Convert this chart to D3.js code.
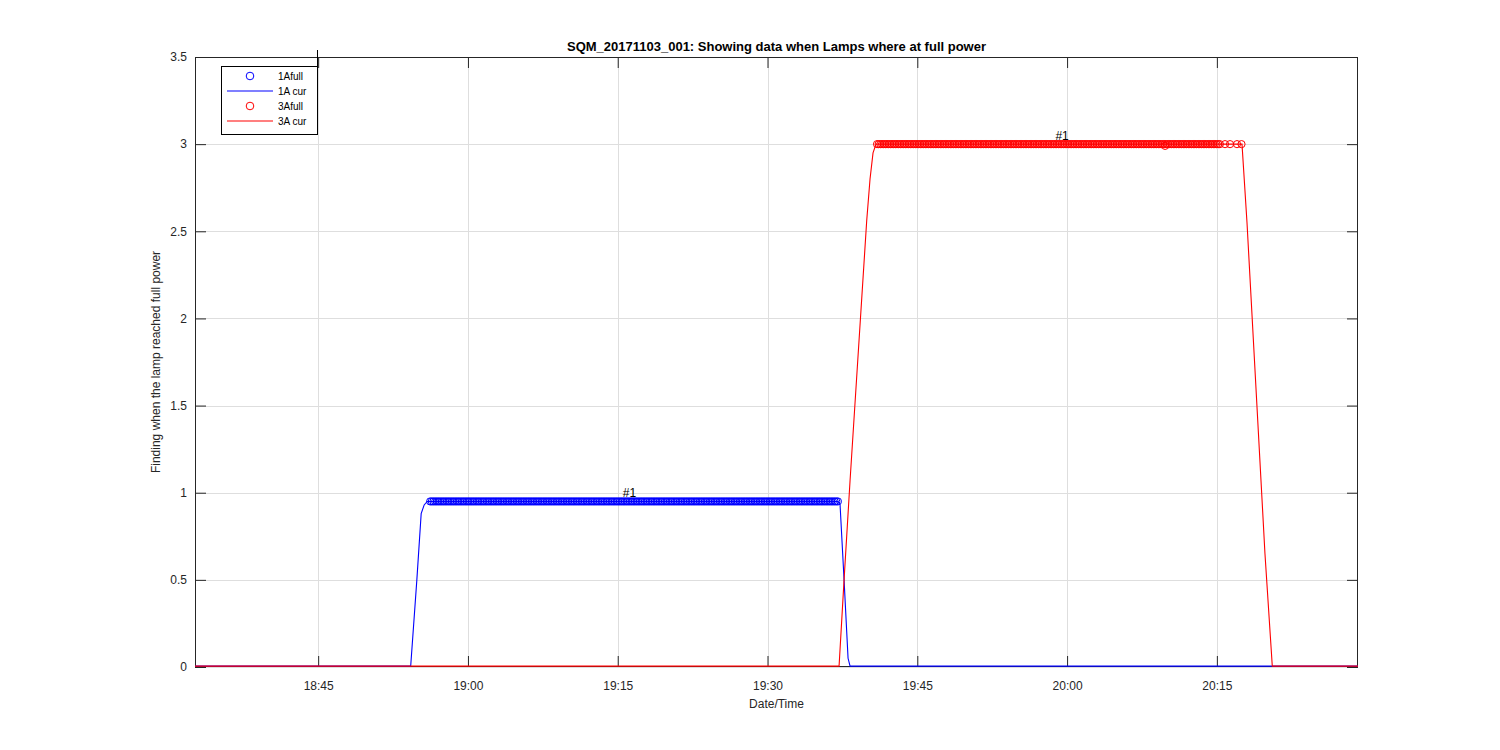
<!DOCTYPE html>
<html>
<head>
<meta charset="utf-8">
<script src="https://cdn.jsdelivr.net/npm/d3@7"></script>
<style>
  html, body { margin: 0; padding: 0; background: #fff; }
  svg { display: block; font-family: "Liberation Sans", Arial, Helvetica, sans-serif; }
</style>
</head>
<body>
<svg id="chart" width="1500" height="750"></svg>
<script>
// ---------------- DATA ----------------
const xDomain = ["18:32:40", "20:29:08"];
const xTickLabels = ["18:45", "19:00", "19:15", "19:30", "19:45", "20:00", "20:15"];
const yTickValues = [0, 0.5, 1, 1.5, 2, 2.5, 3, 3.5];

// 1A current (blue line)
const blueTimes  = ["18:32:40", "18:54:16", "18:54:53", "18:55:19", "18:55:37", "18:55:55", "19:37:04", "19:37:16", "19:37:40", "19:38:04", "19:38:16", "20:29:08"];
const blueValues = [0.005,      0.005,      0.5,        0.88,       0.93,       0.95,       0.95,       0.93,       0.5,        0.05,       0.005,      0.005];

// 3A current (red line)
const redTimes  = ["18:32:40", "19:37:10", "19:37:40", "19:38:16", "19:39:56", "19:40:16", "19:40:34", "19:40:52", "20:17:31", "20:18:01", "20:19:49", "20:20:33", "20:29:08"];
const redValues = [0.005,      0.005,      0.5,        1.07,       2.56,       2.8,        2.95,       3.0,        3.0,        2.55,       0.65,       0.005,      0.005];

// full power markers: dense sample runs plus isolated samples
const sampleStepSec = 10;
const blueFullRange = ["18:56:13", "19:37:04"];
const blueFullValue = 0.95;
const redFullRange = ["19:40:58", "20:15:19"];
const redFullValue = 3.0;
const redExtraTimes  = ["20:09:49", "20:15:49", "20:16:19", "20:17:01", "20:17:28"];
const redExtraValues = [2.99,       3.0,        3.0,        3.0,        3.0];

// annotations
const labelTimes  = ["19:16:11", "19:59:30"];
const labelValues = [0.95, 3.0];
const labelTexts  = ["#1", "#1"];

const legendLabels = ["1Afull", "1A cur", "3Afull", "3A cur"];
const titleText = "SQM_20171103_001: Showing data when Lamps where at full power";
const xLabel = "Date/Time";
const yLabel = "Finding when the lamp reached full power";

// ---------------- DRAW ----------------
const parse = d3.timeParse("%H:%M:%S");
const parseHM = d3.timeParse("%H:%M");
const svg = d3.select("#chart");
const L = 195, R = 1358, T = 57, B = 667;
const x = d3.scaleTime().domain(xDomain.map(parse)).range([L, R]);
const y = d3.scaleLinear().domain([0, 3.5]).range([B, T]);
const tickLen = 11;
const textCol = "#262626";

const xTicks = xTickLabels.map(parseHM);

// grid
const grid = svg.append("g");
grid.selectAll(".gx").data(xTicks).enter().append("line")
  .attr("x1", d => Math.round(x(d)) + 0.5).attr("x2", d => Math.round(x(d)) + 0.5)
  .attr("y1", T).attr("y2", B).attr("stroke", "#dedede").attr("stroke-width", 1);
grid.selectAll(".gy").data(yTickValues).enter().append("line")
  .attr("y1", d => Math.round(y(d)) + 0.5).attr("y2", d => Math.round(y(d)) + 0.5)
  .attr("x1", L).attr("x2", R).attr("stroke", "#dedede").attr("stroke-width", 1);

// axes with inward ticks using d3 axes
const xAxisB = d3.axisBottom(x).tickValues(xTicks).tickFormat(d3.timeFormat("%H:%M")).tickSizeInner(-tickLen).tickSizeOuter(0).tickPadding(14);
const xAxisT = d3.axisTop(x).tickValues(xTicks).tickFormat("").tickSizeInner(-tickLen).tickSizeOuter(0);
const yAxisL = d3.axisLeft(y).tickValues(yTickValues).tickFormat(d3.format("")).tickSizeInner(-tickLen).tickSizeOuter(0).tickPadding(8);
const yAxisR = d3.axisRight(y).tickValues(yTickValues).tickFormat("").tickSizeInner(-tickLen).tickSizeOuter(0);

function styleAxis(g) {
  g.select(".domain").remove();
  g.selectAll(".tick line").attr("stroke", textCol);
  g.selectAll(".tick text").attr("fill", textCol).style("font-size", "12px")
    .style("font-family", "'Liberation Sans', Arial, sans-serif");
}

// axes and box (drawn beneath the data, as in the reference)
svg.append("g").attr("transform", `translate(0,${B})`).call(xAxisB).call(styleAxis);
svg.append("g").attr("transform", `translate(0,${T})`).call(xAxisT).call(styleAxis);
svg.append("g").attr("transform", `translate(${L},0)`).call(yAxisL).call(styleAxis);
svg.append("g").attr("transform", `translate(${R},0)`).call(yAxisR).call(styleAxis);
svg.append("rect").attr("x", L + 0.5).attr("y", T + 0.5).attr("width", R - L - 1).attr("height", B - T - 1)
  .attr("fill", "none").attr("stroke", textCol).attr("stroke-width", 1);

// data lines
const line = d3.line().x(d => x(d.t)).y(d => y(d.v));
const blueData = blueTimes.map((t, i) => ({t: parse(t), v: blueValues[i]}));
const redData = redTimes.map((t, i) => ({t: parse(t), v: redValues[i]}));

function runSamples(range, value) {
  const s = parse(range[0]), e = parse(range[1]);
  const out = [];
  for (let t = +s; t <= +e; t += sampleStepSec * 1000) out.push({t: new Date(t), v: value});
  return out;
}
const blueFull = runSamples(blueFullRange, blueFullValue);
const redFull = runSamples(redFullRange, redFullValue)
  .concat(redExtraTimes.map((t, i) => ({t: parse(t), v: redExtraValues[i]})));

const plot = svg.append("g");
plot.append("g").selectAll("circle").data(blueFull).enter().append("circle")
  .attr("cx", d => x(d.t)).attr("cy", d => y(d.v)).attr("r", 3.6)
  .attr("fill", "none").attr("stroke", "#0000ff").attr("stroke-width", 1);
plot.append("path").datum(blueData).attr("d", line)
  .attr("fill", "none").attr("stroke", "#0000ff").attr("stroke-width", 1.1);
plot.append("g").selectAll("circle").data(redFull).enter().append("circle")
  .attr("cx", d => x(d.t)).attr("cy", d => y(d.v)).attr("r", 3.6)
  .attr("fill", "none").attr("stroke", "#ff0000").attr("stroke-width", 1);
plot.append("path").datum(redData).attr("d", line)
  .attr("fill", "none").attr("stroke", "#ff0000").attr("stroke-width", 1.1);

// annotations
plot.selectAll(".ann").data(labelTimes).enter().append("text")
  .attr("x", d => x(parse(d))).attr("y", (d, i) => y(labelValues[i]) - 4)
  .attr("text-anchor", "middle").attr("fill", "#000").style("font-size", "12px")
  .text((d, i) => labelTexts[i]);

// title & labels
svg.append("text").attr("x", (L + R) / 2).attr("y", 51).attr("text-anchor", "middle")
  .attr("fill", "#000").style("font-size", "13px").style("font-weight", "bold").text(titleText);
svg.append("text").attr("x", (L + R) / 2).attr("y", 708).attr("text-anchor", "middle")
  .attr("fill", textCol).style("font-size", "12px").text(xLabel);
svg.append("text").attr("transform", `translate(160,${(T + B) / 2}) rotate(-90)`).attr("text-anchor", "middle")
  .attr("fill", textCol).style("font-size", "12px").text(yLabel);

// legend
const lg = svg.append("g");
lg.append("line").attr("x1", 317.5).attr("x2", 317.5).attr("y1", 50).attr("y2", 66).attr("stroke", "#000");
lg.append("rect").attr("x", 221.5).attr("y", 66.5).attr("width", 96).attr("height", 68)
  .attr("fill", "#fff").attr("stroke", "#000").attr("stroke-width", 1);
const legColors = ["#0000ff", "#0000ff", "#ff0000", "#ff0000"];
const legTypes = ["circle", "line", "circle", "line"];
legendLabels.forEach((lab, i) => {
  const yy = 76 + i * 15;
  if (legTypes[i] === "circle") {
    lg.append("circle").attr("cx", 250).attr("cy", yy).attr("r", 3.8)
      .attr("fill", "none").attr("stroke", legColors[i]).attr("stroke-width", 1);
  } else {
    lg.append("line").attr("x1", 227).attr("x2", 273).attr("y1", yy).attr("y2", yy)
      .attr("stroke", legColors[i]).attr("stroke-width", 1.2);
  }
  lg.append("text").attr("x", 278).attr("y", yy + 3.5).attr("fill", "#000")
    .style("font-size", "10px").text(lab);
});
</script>
</body>
</html>
